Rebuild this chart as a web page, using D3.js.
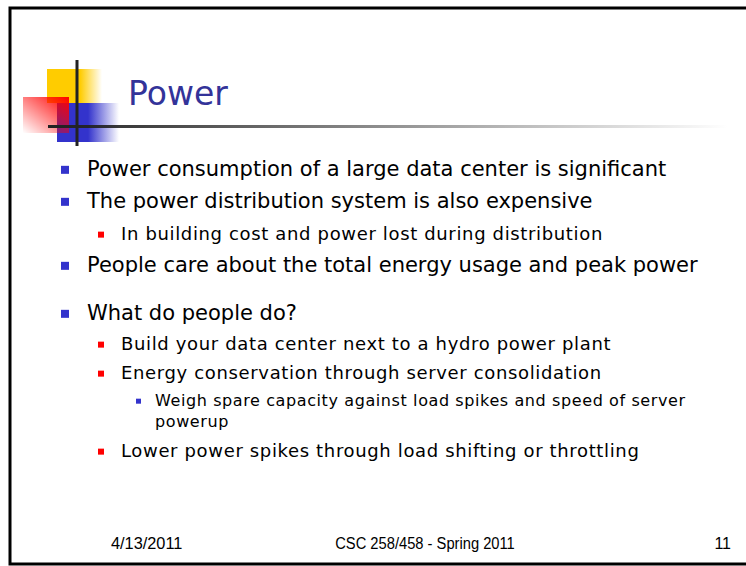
<!DOCTYPE html>
<html>
<head>
<meta charset="utf-8">
<script src="https://cdn.jsdelivr.net/npm/d3@7"></script>
<style>
  body { margin: 0; background: #fff; }
  svg { display: block; }
</style>
</head>
<body>
<svg id="slide" width="746" height="566"></svg>
<script>
var titleText = "Power";
var bulletTexts = [
  "Power consumption of a large data center is significant",
  "The power distribution system is also expensive",
  "In building cost and power lost during distribution",
  "People care about the total energy usage and peak power",
  "What do people do?",
  "Build your data center next to a hydro power plant",
  "Energy conservation through server consolidation",
  "Weigh spare capacity against load spikes and speed of server",
  "powerup",
  "Lower power spikes through load shifting or throttling"
];
var bulletLevels = [0, 0, 1, 0, 0, 1, 1, 2, 2, 1];
var bulletContinued = [false, false, false, false, false, false, false, false, true, false];
var footerLabels = ["4/13/2011", "CSC 258/458 - Spring 2011", "11"];

var bodyFont = "'Comic Sans MS', 'DejaVu Sans', sans-serif";
var footFont = "'Liberation Sans Narrow', 'Arial Narrow', 'Liberation Sans', sans-serif";

// layout per level: text x, bullet x, bullet size, font size, letter spacing, colour
var levelStyle = [
  {tx: 87, bx: 61, bs: 8, fs: 21, ls: 0, col: "#3333cc"},
  {tx: 121, bx: 98, bs: 6, fs: 18, ls: 0.65, col: "#ff0000"},
  {tx: 155, bx: 136, bs: 5, fs: 16, ls: 0.6, col: "#3333cc"}
];
// vertical gap before each line (same index as bulletTexts)
var gapBefore = [0, 32, 32, 32, 48, 30, 29, 27, 21, 30];

var svg = d3.select("#slide");
var defs = svg.append("defs");

function linGrad(id, x1, y1, x2, y2, stops) {
  var g = defs.append("linearGradient").attr("id", id)
    .attr("x1", x1).attr("y1", y1).attr("x2", x2).attr("y2", y2);
  stops.forEach(function(s) {
    g.append("stop").attr("offset", s[0]).attr("stop-color", s[1]).attr("stop-opacity", s[2]);
  });
  return "url(#" + id + ")";
}

var yellowFill = linGrad("gY", 0, 0, 1, 0, [[0, "#ffcc00", 1], [0.6, "#ffcc00", 1], [1, "#ffcc00", 0]]);
var blueFill = linGrad("gB", 0, 0, 1, 0, [[0, "#3333cc", 1], [0.5, "#3333cc", 1], [1, "#3333cc", 0]]);
var redFill = linGrad("gR", 1, 0, 0, 1, [[0, "#ff0000", 1], [1, "#ff0000", 0]]);
var ruleFill = linGrad("gL", 0, 0, 1, 0, [[0, "#222222", 1], [1, "#222222", 0]]);

// slide frame
svg.append("rect").attr("x", 10).attr("y", 8).attr("width", 800).attr("height", 556)
  .attr("fill", "none").attr("stroke", "#000").attr("stroke-width", 3);

// logo
var logo = svg.append("g");
logo.append("rect").attr("x", 47).attr("y", 69).attr("width", 55).attr("height", 34).attr("fill", yellowFill);
logo.append("rect").attr("x", 57).attr("y", 103).attr("width", 62).attr("height", 39).attr("fill", blueFill);
logo.append("rect").attr("x", 23).attr("y", 97).attr("width", 46).attr("height", 36).attr("fill", redFill);
logo.append("rect").attr("x", 48).attr("y", 125).attr("width", 680).attr("height", 3).attr("fill", ruleFill);
logo.append("rect").attr("x", 75.5).attr("y", 60).attr("width", 3).attr("height", 86).attr("fill", "#222");

svg.append("text").attr("x", 128).attr("y", 105)
  .attr("font-family", bodyFont).attr("font-size", 33).attr("fill", "#333399")
  .text(titleText);

// bullets
var y = 176;
var rows = bulletTexts.map(function(t, i) {
  y += gapBefore[i];
  return {text: t, level: bulletLevels[i], cont: bulletContinued[i], y: y};
});

var row = svg.append("g").selectAll("g").data(rows).join("g");
row.filter(function(d) { return !d.cont; }).append("rect")
  .attr("x", function(d) { return levelStyle[d.level].bx; })
  .attr("y", function(d) { var s = levelStyle[d.level]; return d.y - s.fs * 0.27 - s.bs / 2 - 0.5; })
  .attr("width", function(d) { return levelStyle[d.level].bs; })
  .attr("height", function(d) { return levelStyle[d.level].bs; })
  .attr("fill", function(d) { return levelStyle[d.level].col; });
row.append("text")
  .attr("x", function(d) { return levelStyle[d.level].tx; })
  .attr("y", function(d) { return d.y; })
  .attr("font-family", bodyFont)
  .attr("font-size", function(d) { return levelStyle[d.level].fs; })
  .attr("letter-spacing", function(d) { return levelStyle[d.level].ls; })
  .attr("fill", "#000")
  .text(function(d) { return d.text; });

// footer
var footX = [111, 425, 731];
var footScale = [1.02, 0.92, 1];
var footAnchor = ["start", "middle", "end"];
svg.append("g").selectAll("text").data(footerLabels).join("text")
  .attr("transform", function(d, i) { return "translate(" + footX[i] + ",549) scale(" + footScale[i] + ",1)"; })
  .attr("text-anchor", function(d, i) { return footAnchor[i]; })
  .attr("font-family", footFont).attr("font-size", 16).attr("fill", "#000")
  .text(function(d) { return d; });
</script>
</body>
</html>
